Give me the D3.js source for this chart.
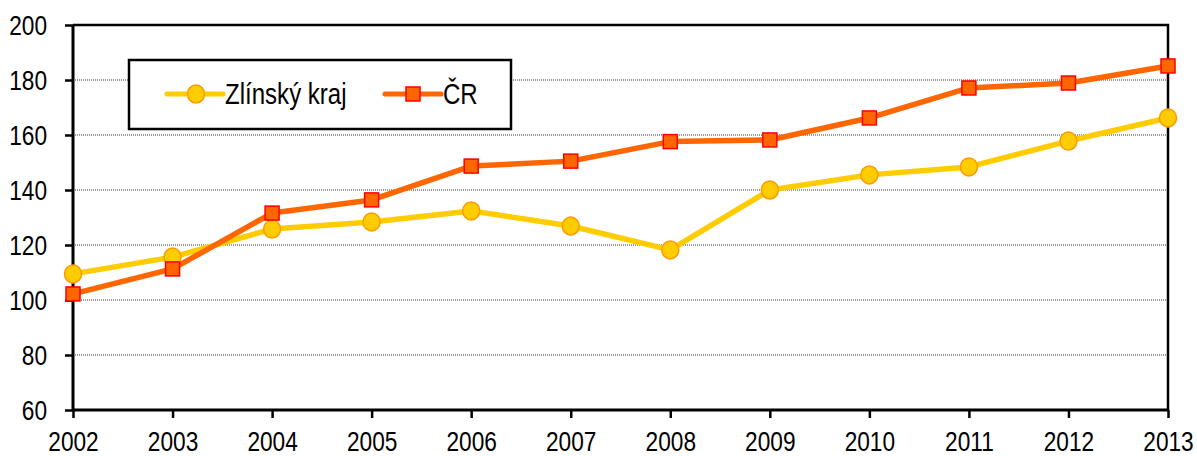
<!DOCTYPE html>
<html>
<head>
<meta charset="utf-8">
<script src="https://cdn.jsdelivr.net/npm/d3@7"></script>
<style>
  body { margin: 0; background: #fff; }
  svg text { font-family: "Liberation Sans", Arial, sans-serif; fill: #000; }
</style>
</head>
<body>
<div id="chart"></div>
<script>
// data
const years = [2002, 2003, 2004, 2005, 2006, 2007, 2008, 2009, 2010, 2011, 2012, 2013];
const zlin = [109.5, 115.6, 125.8, 128.4, 132.4, 126.9, 118.2, 140.0, 145.5, 148.4, 157.8, 166.2];
const cr = [102.2, 111.3, 131.6, 136.4, 148.7, 150.5, 157.6, 158.2, 166.2, 177.1, 178.9, 185.1];
const yTicks = [60, 80, 100, 120, 140, 160, 180, 200];
const seriesNames = ["Zlínský kraj", "ČR"];

var width = 1197,
    height = 456;
var plotLeft = 73, plotRight = 1168, plotTop = 25, plotBottom = 410;
var tickFont = 28, legendFont = 29;
var squeeze = 0.81; // narrow look of the original font

var svg = d3.select("#chart").append("svg")
    .attr("width", width)
    .attr("height", height);

var x = d3.scaleLinear().domain([2002, 2013]).range([plotLeft, plotRight]);
var y = d3.scaleLinear().domain([60, 200]).range([plotBottom, plotTop]);

// dotted gridlines
svg.append("g").selectAll("line")
    .data(yTicks.filter(d => d > 60 && d < 200))
    .enter().append("line")
    .attr("x1", plotLeft).attr("x2", plotRight)
    .attr("y1", d => y(d)).attr("y2", d => y(d))
    .attr("stroke", "#333")
    .attr("stroke-width", 1)
    .attr("stroke-dasharray", "1,1");

// top + right frame
svg.append("path")
    .attr("d", "M" + plotLeft + "," + y(200) + "H" + plotRight + "V" + plotBottom)
    .attr("fill", "none")
    .attr("stroke", "#000")
    .attr("stroke-width", 2.5);

// axes
var yAxis = d3.axisLeft(y).tickValues(yTicks).tickSize(8).tickPadding(18);
var gy = svg.append("g").attr("transform", "translate(" + plotLeft + ",0)").call(yAxis);
var xAxis = d3.axisBottom(x).tickValues(years).tickFormat(d3.format("d")).tickSize(8).tickPadding(14);
var gx = svg.append("g").attr("transform", "translate(0," + plotBottom + ")").call(xAxis);

[gx, gy].forEach(function (g) {
    g.attr("font-size", tickFont).attr("font-family", "Liberation Sans, Arial, sans-serif");
    g.select(".domain").attr("stroke", "#000").attr("stroke-width", 3);
    g.selectAll(".tick line").attr("stroke", "#000").attr("stroke-width", 2.5);
    g.selectAll(".tick text").attr("fill", "#000");
});
gy.select(".domain").attr("d", "M0," + y(60) + "V" + y(200));
gx.select(".domain").attr("d", "M" + plotLeft + ",0H" + plotRight);
// squeeze tick labels horizontally
gy.selectAll(".tick text").each(function () {
    var t = d3.select(this);
    var tx = +t.attr("x");
    t.attr("x", 0).attr("transform", "translate(" + tx + ",1) scale(" + squeeze + ",1)");
});
gx.selectAll(".tick text").attr("transform", "translate(0,-1) scale(" + squeeze + ",1)");

// lines
var line = d3.line().x((d, i) => x(years[i])).y(d => y(d));

svg.append("path").datum(zlin)
    .attr("d", line)
    .attr("fill", "none")
    .attr("stroke", "#FFCC00")
    .attr("stroke-width", 5.5)
    .attr("stroke-linejoin", "round");

svg.append("path").datum(cr)
    .attr("d", line)
    .attr("fill", "none")
    .attr("stroke", "#FF6600")
    .attr("stroke-width", 5.5)
    .attr("stroke-linejoin", "round");

// markers
svg.append("g").selectAll("ellipse")
    .data(zlin)
    .enter().append("ellipse")
    .attr("cx", (d, i) => x(years[i]))
    .attr("cy", d => y(d))
    .attr("rx", 8.5).attr("ry", 9)
    .attr("fill", "#FFCC00")
    .attr("stroke", "#FF9900")
    .attr("stroke-width", 1.5);

svg.append("g").selectAll("rect")
    .data(cr)
    .enter().append("rect")
    .attr("x", (d, i) => x(years[i]) - 7)
    .attr("y", d => y(d) - 7)
    .attr("width", 14).attr("height", 14)
    .attr("fill", "#FF6600")
    .attr("stroke", "#FF0000")
    .attr("stroke-width", 1.5);

// legend
var lg = svg.append("g");
lg.append("rect")
    .attr("x", 129).attr("y", 60)
    .attr("width", 382).attr("height", 69)
    .attr("fill", "#fff")
    .attr("stroke", "#000")
    .attr("stroke-width", 2.5);

var legendItems = [
    { name: seriesNames[0], x0: 167, color: "#FFCC00", mark: "circle" },
    { name: seriesNames[1], x0: 385, color: "#FF6600", mark: "square" }
];
var ly = 94;
legendItems.forEach(function (it) {
    lg.append("line")
        .attr("x1", it.x0).attr("x2", it.x0 + 56)
        .attr("y1", ly).attr("y2", ly)
        .attr("stroke", it.color)
        .attr("stroke-width", 5)
        .attr("stroke-linecap", "round");
    if (it.mark === "circle") {
        lg.append("ellipse")
            .attr("cx", it.x0 + 29).attr("cy", ly)
            .attr("rx", 8.5).attr("ry", 9)
            .attr("fill", "#FFCC00").attr("stroke", "#FF9900").attr("stroke-width", 1.5);
    } else {
        lg.append("rect")
            .attr("x", it.x0 + 28 - 7).attr("y", ly - 7)
            .attr("width", 14).attr("height", 14)
            .attr("fill", "#FF6600").attr("stroke", "#FF0000").attr("stroke-width", 1.5);
    }
    lg.append("text")
        .attr("transform", "translate(" + (it.x0 + 58) + "," + (ly + 10) + ") scale(0.83,1)")
        .attr("font-size", legendFont)
        .text(it.name);
});
</script>
</body>
</html>
